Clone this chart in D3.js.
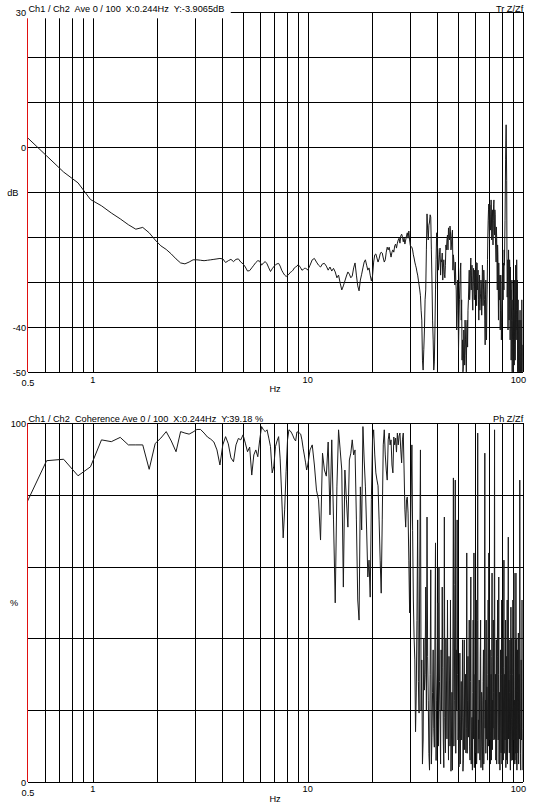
<!DOCTYPE html>
<html><head><meta charset="utf-8">
<script src="https://cdn.jsdelivr.net/npm/d3@7"></script>
<style>
body{margin:0;background:#fff}
svg{display:block}
text{font-family:"Liberation Sans",Arial,sans-serif;font-size:9.2px;fill:#000;white-space:pre}
</style>
</head><body>
<svg id="c" width="533" height="805"></svg>
<script>
// ---- data ----
const binHz = 0.1220703125;             // FFT bin spacing (Hz)
const segStart = [4, 84, 250, 252];     // first bin of each stored segment
const segStep  = [1, 2, 4, 4];          // bin step within each segment

const gridFreqs = [0.6,0.7,0.8,0.9,1,2,3,4,5,6,7,8,9,10,20,30,40,50,60,70,80,90,100];
const xLabels = [0.5, 1, 10, 100];

const magTicks = [30, 0, -40, -50];
const magGrid  = [20, 10, 0, -10, -20, -30, -40];
const cohTicks = [100, 0];
const cohGrid  = [80, 60, 40, 20];

// Transfer function magnitude (dB)
const magA = [2.5,-1.9,-5.5,-7.9,-11.6,-13.0,-14.6,-15.9,-17.2,-18.2,
-17.8,-19.0,-20.6,-21.9,-22.7,-23.7,-24.8,-25.7,-25.9,-25.5,
-25.0,-25.0,-25.1,-25.2,-25.1,-25.0,-24.9,-24.8,-24.7,-24.8,
-25.6,-25.2,-24.9,-25.4,-24.9,-24.8,-25.5,-25.9,-26.6,-27.5,
-27.4,-26.8,-26.2,-25.6,-25.2,-25.3,-26.2,-25.7,-25.4,-25.9,
-26.8,-27.6,-27.0,-26.5,-26.1,-25.9,-25.8,-26.4,-27.3,-27.9,
-28.4,-28.7,-28.5,-28.2,-27.8,-27.6,-27.3,-26.8,-26.6,-26.4,
-26.1,-26.4,-26.8,-27.3,-27.2,-26.9,-26.9,-27.0,-27.3];
const magB = [-26.2,-25.0,-24.7,-25.5,-26.2,-26.6,-25.9,-25.8,-26.4,-27.3,
-26.6,-27.5,-26.9,-27.7,-29.0,-28.4,-30.2,-31.7,-30.8,-29.7,
-28.6,-27.7,-28.2,-29.0,-28.6,-26.8,-25.7,-28.4,-30.8,-31.9,
-29.5,-28.2,-26.8,-25.5,-25.0,-26.2,-27.3,-26.8,-28.4,-29.7,
-28.6,-25.5,-23.9,-23.7,-24.6,-25.5,-24.8,-23.7,-23.3,-23.5,
-24.6,-25.5,-25.0,-23.3,-22.2,-22.8,-22.2,-23.3,-24.4,-23.3,
-22.8,-23.3,-21.9,-21.5,-22.4,-21.3,-20.6,-20.2,-21.3,-19.7,
-19.3,-19.9,-21.0,-20.2,-21.5,-20.6,-19.7,-19.0,-20.2,-18.6,
-20.6,-21.9];
const magC = [-22.2,-23.9,-25.5,-26.8,-28.4,-30.6,-33.0,-38.4,-49.5,-40.6,
-31.7,-14.8,-20.6,-16.6,-15.5,-29.5,-42.8,-47.7,-31.7,-19.0,
-22.8,-25.7,-22.4,-25.0,-23.5,-26.8,-28.2,-26.2,-22.8,-19.5,
-17.9,-20.6,-18.8,-21.7,-18.4,-23.9,-27.7,-25.5,-31.7,-36.2,
-33.9,-38.4,-30.6,-25.7,-33.9,-42.8,-48.8,-43.9,-38.4,-46.2,
-40.6,-44.4,-33.9,-27.3,-31.7,-24.6,-28.4,-33.9,-29.5,-31.0,
-27.3,-32.8,-28.4,-25.7,-29.5,-33.9,-30.6,-36.2,-32.4,-30.6,
-33.9,-27.9,-31.7,-29.5,-38.4,-32.8,-40.6,-35.5,-25.0,-16.2,
-12.6,-20.6,-15.0,-17.3,-14.6,-19.5,-13.9,-16.2,-11.7,-19.5,
-15.0,-22.8,-17.7,-25.0,-21.7,-29.5,-25.7,-33.9,-28.4,-36.2,
-31.7,-39.0,-33.9,-29.5,-25.7,-31.7,-26.2,-16.2,-2.8,5.0,
-7.3,-33.3,-25.0,-30.6,-27.3,-33.9,-28.4,-26.6,-31.7,-38.4,
-29.5,-42.8,-33.9,-47.3,-40.6,-43.9,-33.9,-40.6,-31.7,-36.2,
-30.6,-29.5,-38.4,-45.0,-40.6,-48.8,-42.8,-49.9,-45.0,-40.6,
-47.3,-42.8,-43.9];
const magD = [-22.8,-24.6,-26.2,-27.7,-29.5,-31.7,-36.2,
-47.3,-45.0,-33.9,-22.8,
-18.4,-17.3,-15.0,-22.8,
-38.4,-49.5,-40.6,-25.0,
-21.7,-27.3,-23.9,-28.4,-25.5,-29.5,-25.0,-29.0,-21.7,-20.6,-22.8,
-19.7,-17.5,-22.8,-19.5,-27.3,-25.5,-30.6,-29.5,
-40.6,-29.5,-45.0,-33.9,-27.3,-38.4,-47.3,-49.9,-40.6,-48.4,-42.8,-49.9,-38.4,-36.2,-30.6,
-33.9,-27.3,-31.7,-26.2,-36.2,-26.9,-33.9,-30.6,-25.5,-35.2,-31.7,-27.3,-38.4,-28.4,-33.9,
-29.5,-37.3,-26.2,-35.2,-27.3,-33.9,-43.9,-29.5,-42.8,-31.7,
-19.5,-13.9,-17.3,-12.8,-18.4,-11.7,-20.6,-15.7,-21.7,-12.8,-17.9,-13.9,-20.6,-25.5,-20.2,
-31.7,-23.9,-38.4,-30.6,-33.9,-40.6,-28.4,-42.8,-36.2,-26.2,-33.9,-29.5,-22.8,-20.6,
-9.5,1.6,-0.6,-22.8,
-29.5,-40.6,-22.8,-38.4,-25.0,-42.8,-33.9,-47.3,-33.9,-49.9,-38.4,-49.9,-36.2,-48.4,-29.5,
-47.3,-26.2,-42.8,-25.0,-40.6,-49.9,-33.9,-49.9,-38.4,-49.9,-36.2,-49.9,-38.4,-49.9,-33.9,-49.9];

// Coherence (%)
const cohA = [77.2,89.5,89.9,85.3,87.8,95.3,94.8,96.0,93.9,93.9,
93.9,87.1,94.3,95.8,97.6,95.0,92.0,97.6,97.2,96.9,
97.5,98.2,98.2,97.2,96.1,95.5,94.7,92.5,88.3,93.9,
96.2,94.2,90.3,89.2,93.9,95.7,95.3,96.7,94.4,92.0,
93.3,85.5,91.1,92.5,90.6,95.3,99.0,98.1,97.6,98.1,
95.8,93.4,86.1,88.0,93.4,95.0,96.2,90.0,79.9,68.0,
75.8,86.4,95.3,98.1,97.8,97.2,96.4,95.5,95.0,97.5,
97.5,97.2,96.9,95.3,93.0,91.1,89.1,86.9,88.3];
const cohB = [92.5,93.9,88.3,81.3,78.6,67.4,91.6,86.9,85.2,94.7,
74.4,95.3,73.0,49.9,82.2,98.1,92.5,86.9,54.3,86.9,
78.6,71.0,89.7,91.6,95.3,91.1,92.5,73.0,50.7,45.1,
82.2,70.2,99.0,89.7,82.2,70.2,57.1,61.8,51.5,78.6,
95.3,98.1,91.1,86.1,84.1,82.5,73.0,61.8,52.6,73.0,
93.9,98.1,91.1,86.9,84.1,95.3,97.2,93.9,95.3,88.3,
86.1,96.1,93.9,95.8,91.9,97.2,93.9,96.4,97.2,92.5,
88.9,95.3,97.2,86.9,75.8,71.0,78.6,79.4,74.9,61.8,
47.1,67.4];
const cohC = [93.9,50.7,34.0,24.8,73.0,19.2,92.5,34.0,11.7,25.6,
54.3,73.8,22.8,3.3,59.1,12.5,36.8,9.7,66.6,22.8,
49.9,59.9,17.3,36.8,54.3,11.7,73.8,8.1,28.4,50.7,
6.1,28.4,50.7,11.7,3.3,84.7,22.8,84.1,36.8,73.0,
11.7,4.2,35.9,17.3,11.7,39.6,6.1,39.6,22.8,8.1,
63.8,22.8,12.5,45.1,6.1,57.1,11.7,3.3,45.1,63.8,
14.5,8.1,50.7,11.7,97.2,17.3,28.4,6.1,45.1,11.7,
22.8,3.3,36.8,17.3,91.6,22.8,45.1,26.5,6.1,50.7,
63.8,11.7,36.8,17.3,6.1,58.2,22.8,45.1,11.7,98.1,
22.8,6.1,39.6,22.0,50.7,11.7,57.1,17.3,3.3,36.8,
8.1,50.7,17.3,28.4,6.1,61.8,22.8,11.7,45.1,22.8,
6.1,50.7,17.3,68.2,28.4,8.1,39.6,3.3,48.7,17.3,
28.4,6.1,50.7,11.7,58.2,22.8,6.1,39.6,58.2,17.3,
3.3,36.8,8.1,41.5,11.7,22.8,84.1,17.3,3.3,34.0,
11.7,50.7,3.3];
const cohD = [70.0,40.2,14.0,45.0,28.0,60.0,20.0,5.0,40.0,30.0,
20.0,35.0,8.0,30.0,5.0,25.0,15.0,40.0,6.0,30.0,
10.0,28.0,5.0,20.0,32.0,4.0,18.0,40.0,12.0,22.0,
35.0,10.0,3.0,25.0,40.0,10.0,55.0,8.0,20.0,30.0,
20.0,12.0,5.0,28.0,18.0,3.0,22.0,9.0,30.0,15.0,
8.0,35.0,20.0,10.0,28.0,5.0,18.0,25.0,12.0,4.0,
30.0,20.0,5.0,45.0,8.0,12.0,20.0,35.0,4.0,25.0,
10.0,28.0,5.0,40.0,15.0,8.0,12.0,20.0,30.0,10.0,
25.0,20.0,5.0,30.0,35.0,9.0,15.0,25.0,40.0,12.0,
30.0,15.0,5.0,35.0,20.0,30.0,5.0,25.0,15.0,20.0,
30.0,5.0,40.0,15.0,32.0,8.0,30.0,20.0,4.0,35.0,
25.0,5.0,35.0,12.0,18.0,25.0,10.0,30.0,6.0,40.0,
12.0,30.0,20.0,35.0,5.0,15.0,28.0,8.0,5.0,40.0,
15.0,20.0,25.0,5.0,30.0,12.0,40.0,8.0,20.0,25.0,
28.0,15.0];

const magTitle = "Ch1 / Ch2  Ave 0 / 100  X:0.244Hz  Y:-3.9065dB";
const magTag = "Tr Z/Zf";
const cohTitle = "Ch1 / Ch2  Coherence Ave 0 / 100  X:0.244Hz  Y:39.18 %";
const cohTag = "Ph Z/Zf";

// ---- build ----
function toPoints(segs){
  const pts=[];
  segs.forEach((vals,s)=>vals.forEach((v,i)=>pts.push({f:(segStart[s]+segStep[s]*i)*binHz, v})));
  return pts.sort((a,b)=>a.f-b.f);
}

const X0 = 27.98, X1 = 522.7;
const x = d3.scaleLog().domain([0.5,100]).range([X0,X1]);
const svg = d3.select("#c");

function panel(o){
  const g = svg.append("g");
  const y = d3.scaleLinear().domain(o.domain).range([o.bottom,o.top]);
  const h = o.bottom-o.top;

  // vertical grid
  const gx = g.append("g").attr("transform",`translate(0,${o.bottom})`)
    .call(d3.axisBottom(x).tickValues(gridFreqs).tickSize(h).tickSizeOuter(0).tickFormat(""));
  gx.select(".domain").remove();
  gx.selectAll(".tick text").remove();
  gx.selectAll(".tick line").attr("y2",-h).attr("stroke","#000").attr("shape-rendering","crispEdges");

  // horizontal grid
  const gy = g.append("g").attr("transform",`translate(${X0},0)`)
    .call(d3.axisLeft(y).tickValues(o.grid.concat(o.domain)).tickSize(-(X1-X0)).tickSizeOuter(0).tickFormat(""));
  gy.select(".domain").remove();
  gy.selectAll(".tick text").remove();
  gy.selectAll(".tick line").attr("stroke","#000").attr("shape-rendering","crispEdges");

  // left axis (red)
  g.append("line").attr("x1",X0).attr("x2",X0).attr("y1",o.top).attr("y2",o.bottom)
    .attr("stroke","#e01010").attr("shape-rendering","crispEdges");

  // data
  const cid = "clip"+o.id;
  svg.append("clipPath").attr("id",cid).append("rect")
    .attr("x",X0).attr("y",o.top).attr("width",X1-X0).attr("height",h);
  g.append("path").datum(o.data)
    .attr("clip-path",`url(#${cid})`)
    .attr("fill","none").attr("stroke","#1a1a1a").attr("stroke-width",1)
    .attr("stroke-linejoin","round")
    .attr("d", d3.line().x(d=>x(d.f)).y(d=>y(d.v)));

  // titles with white background
  const lab = g.append("g");
  const bgL = lab.append("rect").attr("fill","#fff");
  const bgR = lab.append("rect").attr("fill","#fff");
  const t = lab.append("text").attr("x",X0+0.5).attr("y",o.top-0.8).text(o.title);
  const tb = t.node().getBBox();
  bgL.attr("x",X0-1).attr("y",o.top-14).attr("width",tb.width+8).attr("height",o.titleBg);
  const r = lab.append("text").attr("x",X1+0.5).attr("y",o.top-0.8).attr("text-anchor","end").text(o.tag);
  const rb = r.node().getBBox();
  bgR.attr("x",rb.x-2).attr("y",o.top-14).attr("width",rb.width+6).attr("height",13.5);

  // y tick labels
  lab.selectAll(".yl").data(o.ticks).join("text").attr("class","yl")
    .attr("x",26).attr("y",d=>y(d)).attr("dy","0.4em").attr("text-anchor","end").text(d=>d);
  lab.append("text").attr("x",o.unitX).attr("y",y(o.mid)).attr("dy","0.35em")
    .attr("text-anchor","middle").text(o.unit);

  // x tick labels
  lab.selectAll(".xl").data(xLabels).join("text").attr("class","xl")
    .attr("x",d=>d===100 ? 526 : x(d))
    .attr("y",d=>o.bottom + (d===0.5 ? 13.8 : 10.2))
    .attr("text-anchor",d=>d===100 ? "end" : "middle")
    .text(d=>d);
  lab.append("text").attr("x",275).attr("y",o.bottom+19.8).attr("text-anchor","middle").text("Hz");
}

panel({id:"m", domain:[-50,30], top:12.3, bottom:372.3, grid:magGrid, ticks:magTicks,
  mid:-10, unit:"dB", unitX:12.8, title:magTitle, tag:magTag, titleBg:20,
  data:toPoints([magA,magB,magC,magD])});
panel({id:"c", domain:[0,100], top:423, bottom:782, grid:cohGrid, ticks:cohTicks,
  mid:50, unit:"%", unitX:14, title:cohTitle, tag:cohTag, titleBg:14,
  data:toPoints([cohA,cohB,cohC,cohD])});
</script>
</body></html>
